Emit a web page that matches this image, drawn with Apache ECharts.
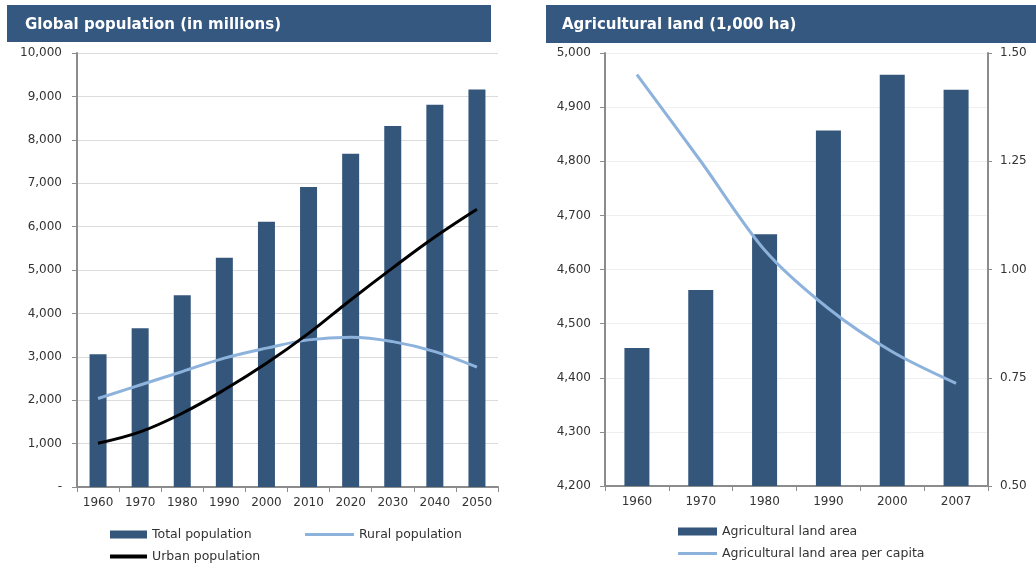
<!DOCTYPE html>
<html>
<head>
<meta charset="utf-8">
<script src="https://cdn.jsdelivr.net/npm/echarts@6/dist/echarts.min.js"></script>
<style>
  html, body { margin: 0; padding: 0; background: #ffffff; }
  #chart { width: 1036px; height: 564px; }
</style>
</head>
<body>
<div id="chart"></div>
<script>
// Global population (millions)
const popYears = ['1960', '1970', '1980', '1990', '2000', '2010', '2020', '2030', '2040', '2050'];
const totalPop = [3060, 3660, 4420, 5280, 6110, 6910, 7680, 8320, 8810, 9160];
const ruralPop = [2040, 2350, 2660, 2970, 3200, 3390, 3450, 3350, 3120, 2760];
const urbanPop = [1010, 1270, 1700, 2240, 2850, 3540, 4310, 5050, 5760, 6400];

// Agricultural land (1,000 ha) and land per capita
const landYears = ['1960', '1970', '1980', '1990', '2000', '2007'];
const landArea = [4455, 4562, 4665, 4857, 4960, 4932];
const landPerCapita = [1.45, 1.25, 1.045, 0.91, 0.81, 0.737];

const FONT = '"DejaVu Sans", Verdana, sans-serif';
const DARK = '#34567b';
const LIGHT = '#8db2dc';
const AXIS = '#8c8c8c';
const TXT = '#333333';

const chart = echarts.init(document.getElementById('chart'), null, { renderer: 'canvas' });

const fmtThousands = v => v === 0 ? '-' : v.toLocaleString('en-US');

const option = {
  backgroundColor: '#ffffff',
  animation: false,
  textStyle: { fontFamily: FONT, color: TXT },
  graphic: [
    { type: 'rect', left: 7, top: 5, shape: { width: 484, height: 37 }, style: { fill: '#355880' } },
    { type: 'text', left: 25, top: 18, style: { text: 'Global population (in millions)', fill: '#ffffff', font: 'bold 15px ' + FONT } },
    { type: 'rect', left: 546, top: 5, shape: { width: 490, height: 38 }, style: { fill: '#355880' } },
    { type: 'text', left: 562, top: 18, style: { text: 'Agricultural land (1,000 ha)', fill: '#ffffff', font: 'bold 15px ' + FONT } }
  ],
  legend: [
    { data: ['Total population'], left: 105, top: 523, icon: 'rect', itemWidth: 37, itemHeight: 8, itemGap: 4,
      textStyle: { fontFamily: FONT, fontSize: 12.5, color: TXT } },
    { data: ['Rural population'], left: 300, top: 523, icon: 'rect', itemWidth: 49, itemHeight: 3,
      textStyle: { fontFamily: FONT, fontSize: 12.5, color: TXT } },
    { data: ['Urban population'], left: 105, top: 545, icon: 'rect', itemWidth: 37, itemHeight: 4,
      textStyle: { fontFamily: FONT, fontSize: 12.5, color: TXT } },
    { data: ['Agricultural land area'], left: 673, top: 520, icon: 'rect', itemWidth: 39, itemHeight: 8,
      textStyle: { fontFamily: FONT, fontSize: 12.5, color: TXT } },
    { data: ['Agricultural land area per capita'], left: 673, top: 542, icon: 'rect', itemWidth: 39, itemHeight: 3,
      textStyle: { fontFamily: FONT, fontSize: 12.5, color: TXT } }
  ],
  grid: [
    { left: 77, right: 538, top: 53, bottom: 77 },
    { left: 605, right: 48, top: 53, bottom: 78 }
  ],
  xAxis: [
    { type: 'category', gridIndex: 0, data: popYears, boundaryGap: true,
      axisLine: { lineStyle: { color: AXIS, width: 2 } },
      axisTick: { show: true, alignWithLabel: false, length: 5, lineStyle: { color: AXIS } },
      axisLabel: { color: TXT, fontSize: 12, margin: 10 } },
    { type: 'category', gridIndex: 1, data: landYears, boundaryGap: true,
      axisLine: { lineStyle: { color: AXIS, width: 2 } },
      axisTick: { show: true, length: 5, lineStyle: { color: AXIS } },
      axisLabel: { color: TXT, fontSize: 12, margin: 10 } }
  ],
  yAxis: [
    { type: 'value', gridIndex: 0, min: 0, max: 10000, interval: 1000,
      axisLine: { show: true, lineStyle: { color: AXIS, width: 2 } },
      axisTick: { show: true, length: 5, lineStyle: { color: AXIS } },
      splitLine: { show: true, lineStyle: { color: '#dcdcdc', width: 1 } },
      axisLabel: { color: TXT, fontSize: 12, margin: 15, formatter: fmtThousands } },
    { type: 'value', gridIndex: 1, min: 4200, max: 5000, interval: 100,
      axisLine: { show: true, lineStyle: { color: AXIS, width: 2 } },
      axisTick: { show: true, length: 5, lineStyle: { color: AXIS } },
      splitLine: { show: true, lineStyle: { color: '#efefef', width: 1 } },
      axisLabel: { color: TXT, fontSize: 12, margin: 14, formatter: v => v.toLocaleString('en-US') } },
    { type: 'value', gridIndex: 1, position: 'right', min: 0.5, max: 1.5, interval: 0.25,
      axisLine: { show: true, lineStyle: { color: AXIS, width: 2 } },
      axisTick: { show: true, length: 4, lineStyle: { color: AXIS } },
      splitLine: { show: false },
      axisLabel: { color: TXT, fontSize: 12, margin: 12, formatter: v => v.toFixed(2) } }
  ],
  series: [
    { name: 'Total population', type: 'bar', xAxisIndex: 0, yAxisIndex: 0, data: totalPop,
      barWidth: 17, itemStyle: { color: DARK } },
    { name: 'Rural population', type: 'line', xAxisIndex: 0, yAxisIndex: 0, data: ruralPop,
      smooth: 0.4, symbol: 'none', lineStyle: { color: LIGHT, width: 3 }, itemStyle: { color: LIGHT }, z: 3 },
    { name: 'Urban population', type: 'line', xAxisIndex: 0, yAxisIndex: 0, data: urbanPop,
      smooth: 0.4, symbol: 'none', lineStyle: { color: '#000000', width: 3 }, itemStyle: { color: '#000000' }, z: 4 },
    { name: 'Agricultural land area', type: 'bar', xAxisIndex: 1, yAxisIndex: 1, data: landArea,
      barWidth: 25, itemStyle: { color: DARK } },
    { name: 'Agricultural land area per capita', type: 'line', xAxisIndex: 1, yAxisIndex: 2, data: landPerCapita,
      smooth: 0.3, symbol: 'none', lineStyle: { color: LIGHT, width: 3 }, itemStyle: { color: LIGHT }, z: 3 }
  ]
};

chart.setOption(option);
</script>
</body>
</html>
